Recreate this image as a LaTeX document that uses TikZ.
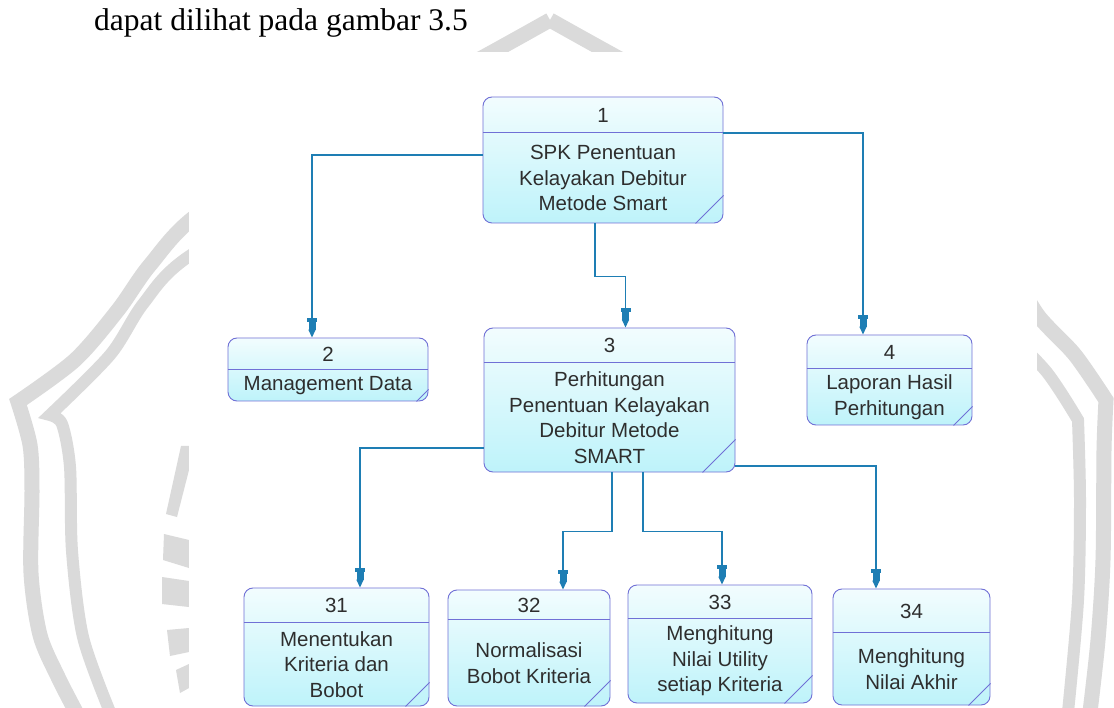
\documentclass[tikz,border=0pt]{standalone}
\usepackage{fontspec}
\setmainfont{Liberation Serif}
\newfontfamily\diafont{Liberation Sans}
\usetikzlibrary{arrows.meta}

\definecolor{wmgray}{RGB}{218,218,218}
\definecolor{procline}{RGB}{112,112,214}
\definecolor{procfill}{RGB}{190,243,250}
\definecolor{flowcol}{RGB}{30,126,180}

\tikzset{
	proc/.style={draw=procline, line width=0.9pt, rounded corners=9pt,
		top color=procfill!20, bottom color=procfill, inner sep=0pt},
	procrule/.style={draw=procline, line width=0.9pt},
	proctxt/.style={font=\diafont\fontsize{20.5}{25.5}\selectfont, align=center,
		inner sep=0pt, text=black!82},
	flow/.style={draw=flowcol, line width=1.5pt,
		-{Square[length=4pt,width=10pt,sep=0pt]Square[length=8pt,width=7pt,sep=0pt]Triangle[length=8pt,width=7pt]}},
	wmband/.style={draw=wmgray, line join=miter}
}

\begin{document}
\begin{tikzpicture}[x=1pt,y=-1pt]
	
	% ---- (A) page frame ----
	\useasboundingbox (0,0) rectangle (1114,708);
	\fill[white] (0,0) rectangle (1114,708);
	
	% ---- (B) watermark behind the screenshot ----
	% outer band
	\draw[wmband, line width=15pt]
	plot[smooth] coordinates {(550,20) (478,60) (330,140) (200,213) (150,265) (118,310) (75,360) (18,402)}
	-- plot[smooth] coordinates {(18,402) (30,445) (32,490) (31,573) (40,635) (58,677) (76,712)};
	\draw[wmband, line width=15pt]
	plot[smooth] coordinates {(550,20) (622,60) (770,140) (900,213) (1000,265) (1040,318) (1075,355) (1106,400)}
	-- plot[smooth] coordinates {(1106,400) (1104,450) (1103,560) (1098,640) (1090,712)};
	% inner band
	\draw[wmband, line width=12pt]
	plot[smooth] coordinates {(330,175) (188,257) (143,304) (110,355) (50,415)}
	-- plot[smooth] coordinates {(50,415) (62,424) (70,467) (72,551) (83,637) (110,712)};
	\draw[wmband, line width=12pt]
	plot[smooth] coordinates {(880,250) (1000,330) (1045,370) (1078,420)}
	-- plot[smooth] coordinates {(1078,420) (1080,500) (1078,600) (1068,712)};
	% letter strokes on the left
	\fill[wmgray] (181,446) -- (189,446) -- (189,470) -- (177,517) -- (166,514) -- cycle;
	\fill[wmgray] (164,534) -- (189,540) -- (189,568) -- (163,560) -- cycle;
	\fill[wmgray] (162,577) -- (189,581) -- (189,607) -- (162,604) -- cycle;
	\fill[wmgray] (167,630) -- (189,628) -- (189,652) -- (170,656) -- cycle;
	\fill[wmgray] (176,670) -- (189,664) -- (189,688) -- (180,693) -- cycle;
	
	% ---- (C) the pasted screenshot ----
	\fill[white] (189,52) rectangle (1037,708);
	
	% ---- (D) caption ----
	\node[anchor=base west, inner sep=0pt, font=\fontsize{31.5}{36}\selectfont] (cap)
	at (94,31) {dapat dilihat pada gambar 3.5};
	
	% ---- (E) processes: name/x1/y1/x2/y2/rule/corner/number/text ----
	\foreach \n/\xa/\ya/\xb/\yb/\ys/\dg/\num/\txt in {
		1/483/97/723/223/133/28/1/{SPK Penentuan\\Kelayakan Debitur\\Metode Smart},
		2/228/338/428/401/370/12/2/{Management Data},
		3/484/328/735/472/363/33/3/{Perhitungan\\Penentuan Kelayakan\\Debitur Metode\\SMART},
		4/807/335/972/425/369/19/4/{Laporan Hasil\\Perhitungan},
		31/244/588/429/706/623/24/31/{Menentukan\\Kriteria dan\\Bobot},
		32/448/590/610/706/620/26/32/{Normalisasi\\Bobot Kriteria},
		33/628/585/812/703/619/28/33/{Menghitung\\Nilai Utility\\setiap Kriteria},
		34/833/589/990/705/633/22/34/{Menghitung\\Nilai Akhir}}{
		\pgfmathsetmacro{\cx}{(\xa+\xb)/2}
		\pgfmathsetmacro{\cy}{(\ya+\yb)/2}
		\pgfmathsetmacro{\bw}{\xb-\xa}
		\pgfmathsetmacro{\bh}{\yb-\ya}
		\pgfmathsetmacro{\hs}{\ys-\ya}
		\pgfmathsetmacro{\hy}{(\ya+\ys)/2}
		\pgfmathsetmacro{\ty}{(\ys+\yb)/2}
		\node[proc, minimum width=\bw pt, minimum height=\bh pt] (p\n) at (\cx,\cy) {};
		\draw[procrule] ([yshift=-\hs pt]p\n.north west) -- ([yshift=-\hs pt]p\n.north east);
		\draw[procrule] ([xshift=-\dg pt]p\n.south east) -- ([yshift=\dg pt]p\n.south east);
		\node[proctxt] (n\n) at (\cx,\hy) {\num};
		\node[proctxt] (t\n) at (\cx,\ty) {\txt};
	}
	
	% ---- (F) decomposition arrows ----
	\draw[flow] ([yshift=5pt]p1.west) -| ([xshift=-16pt]p2.north);
	\draw[flow] ([xshift=-8pt]p1.south) -- ++(0,53) -| ([xshift=16pt]p3.north);
	\draw[flow] ([yshift=27pt]p1.east) -| ([xshift=-26.5pt]p4.north);
	\draw[flow] ([yshift=-48pt]p3.west) -| ([xshift=23.5pt]p31.north);
	\draw[flow] ([xshift=2.5pt]p3.south) -- ++(0,59) -| ([xshift=34pt]p32.north);
	\draw[flow] ([xshift=33.5pt]p3.south) -- ++(0,59) -| ([xshift=2pt]p33.north);
	\draw[flow] ([yshift=-66pt]p3.east) -| ([xshift=-35.5pt]p34.north);
	
\end{tikzpicture}
\end{document}
